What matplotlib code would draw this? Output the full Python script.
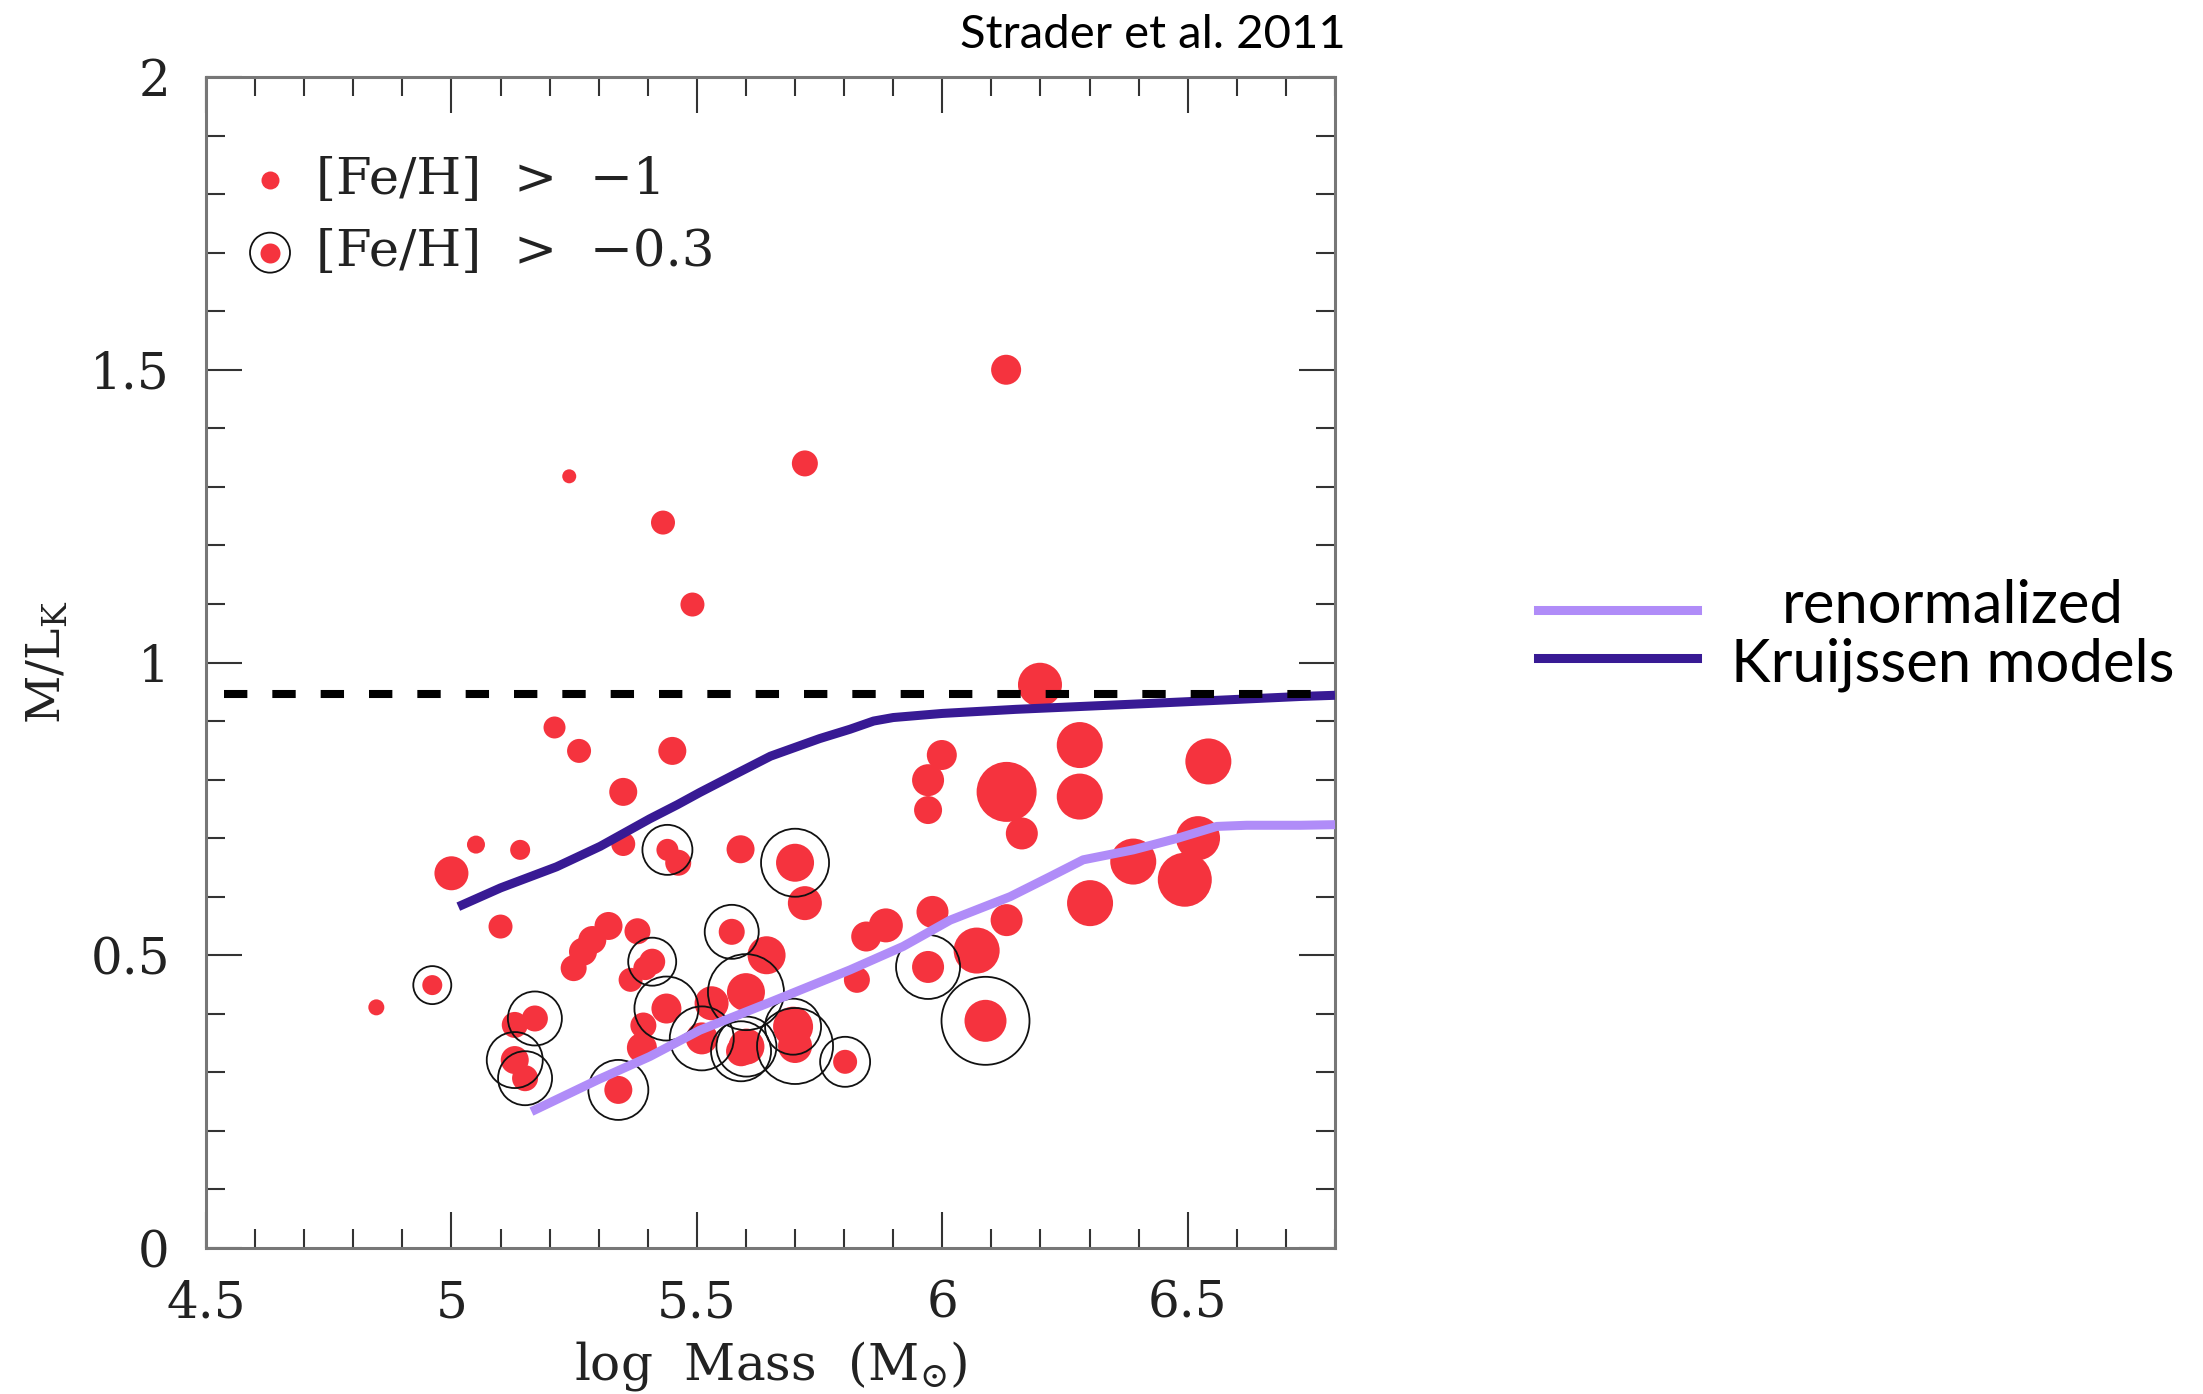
import matplotlib

matplotlib.use("Agg")
import matplotlib.pyplot as plt
from matplotlib.lines import Line2D
from matplotlib.ticker import MultipleLocator, FormatStrFormatter

# red points, no metal-rich ring: log mass, M/L_K, dot radius (px)
plain_x = [6.130, 5.720, 5.240, 5.431, 5.491, 6.199, 5.210, 5.260, 5.450, 5.350,
           5.999, 5.971, 5.971, 6.131, 6.162, 6.280, 6.280, 6.542, 6.521, 6.389,
           6.494, 6.301, 6.131, 6.070, 5.980, 5.885, 5.845, 5.826, 5.000, 5.050,
           5.140, 5.350, 5.462, 5.589, 5.720, 5.642, 5.530, 5.391, 5.388, 5.100,
           5.320, 5.287, 5.268, 5.249, 5.379, 5.365, 5.129, 4.847, 5.395]
plain_y = [1.500, 1.340, 1.318, 1.239, 1.099, 0.962, 0.889, 0.849, 0.849, 0.779,
           0.842, 0.799, 0.748, 0.779, 0.708, 0.859, 0.771, 0.831, 0.700, 0.660,
           0.629, 0.589, 0.560, 0.508, 0.574, 0.551, 0.532, 0.458, 0.640, 0.689,
           0.680, 0.690, 0.658, 0.681, 0.589, 0.500, 0.418, 0.380, 0.342, 0.549,
           0.550, 0.526, 0.506, 0.478, 0.541, 0.458, 0.381, 0.411, 0.478]
plain_r = [15, 13, 7, 12, 12, 22, 11, 12, 14, 14,
           15, 16, 14, 30, 16, 23, 23, 23, 22, 23,
           27, 23, 16, 23, 16, 17, 15, 13, 17, 9,
           10, 12, 13, 14, 17, 19, 17, 13, 15, 12,
           14, 14, 14, 13, 13, 12, 13, 8, 12]

# [Fe/H] > -0.3 points: dot radius and ring radius (px)
ring_x = [4.961, 5.440, 5.700, 5.571, 5.409, 5.600, 5.438, 5.510, 5.601, 5.590,
          5.696, 5.700, 5.802, 5.971, 6.088, 5.170, 5.129, 5.150, 5.340]
ring_y = [0.449, 0.680, 0.658, 0.540, 0.489, 0.437, 0.409, 0.358, 0.344, 0.336,
          0.378, 0.345, 0.318, 0.480, 0.388, 0.392, 0.321, 0.290, 0.270]
ring_dot_r = [10, 11, 19, 13, 13, 19, 15, 16, 18, 15,
              20, 17, 12, 16, 21, 13, 14, 13, 14]
ring_r = [19, 25, 34, 27, 24, 38, 32, 32, 30, 30,
          28, 38, 25, 32, 44, 27, 28, 27, 30]

# Kruijssen models
kru_x = [5.014, 5.10, 5.214, 5.303, 5.404, 5.460, 5.506, 5.573, 5.65, 5.75,
         5.812, 5.86, 5.90, 6.00, 6.15, 6.42, 6.73, 6.80]
kru_y = [0.583, 0.615, 0.651, 0.686, 0.733, 0.757, 0.778, 0.807, 0.840, 0.870,
         0.886, 0.900, 0.906, 0.913, 0.920, 0.930, 0.942, 0.944]
ren_x = [5.163, 5.30, 5.404, 5.506, 5.65, 5.812, 5.92, 6.016, 6.138, 6.219,
         6.287, 6.389, 6.48, 6.559, 6.62, 6.729, 6.80]
ren_y = [0.233, 0.288, 0.327, 0.372, 0.420, 0.475, 0.515, 0.560, 0.600, 0.634,
         0.663, 0.680, 0.700, 0.720, 0.722, 0.722, 0.723]

ref_level = 0.946
ref_x = [4.537, 6.80]

RED = "#f5333e"
DARK = "#381a94"
LIGHT = "#b08cf8"
DPI = 100


def px_to_s(r):
    # radius in pixels -> scatter area in pt^2
    return (2 * r * 72.0 / DPI) ** 2


plt.rcParams["font.family"] = "DejaVu Serif"
plt.rcParams["mathtext.fontset"] = "dejavuserif"

fig = plt.figure(figsize=(2203 / DPI, 1394 / DPI), dpi=DPI)
ax = fig.add_axes([206 / 2203, 1 - 1248 / 1394, 1129 / 2203, 1171 / 1394])

ax.scatter(plain_x, plain_y, s=[px_to_s(r) for r in plain_r], c=RED,
           linewidths=0, zorder=2)
ax.scatter(ring_x, ring_y, s=[px_to_s(r) for r in ring_dot_r], c=RED,
           linewidths=0, zorder=2)
ax.scatter(ring_x, ring_y, s=[px_to_s(r) for r in ring_r], facecolors="none",
           edgecolors="#111111", linewidths=1.3, zorder=3)

ax.plot(kru_x, kru_y, color=DARK, lw=6.5, solid_capstyle="butt",
        solid_joinstyle="round", zorder=4)
ax.plot(ren_x, ren_y, color=LIGHT, lw=6.5, solid_capstyle="butt",
        solid_joinstyle="round", zorder=4, clip_on=False)
ax.plot(ref_x, [ref_level, ref_level], color="black", lw=5.8,
        dashes=(2.9, 3.1), zorder=5)

# legend inside the frame
ax.scatter([0.0567], [0.912], s=px_to_s(9), c=RED, linewidths=0,
           transform=ax.transAxes, clip_on=False)
ax.scatter([0.0567], [0.850], s=px_to_s(10), c=RED, linewidths=0,
           transform=ax.transAxes, clip_on=False)
ax.scatter([0.0567], [0.850], s=px_to_s(20), facecolors="none",
           edgecolors="#111111", linewidths=1.3, transform=ax.transAxes,
           clip_on=False)
ax.text(0.097, 0.912, "[Fe/H]  >  \u22121", transform=ax.transAxes,
        fontsize=37, va="center", ha="left", color="#222222")
ax.text(0.097, 0.850, "[Fe/H]  >  \u22120.3", transform=ax.transAxes,
        fontsize=37, va="center", ha="left", color="#222222")

ax.set_xlim(4.5, 6.8)
ax.set_ylim(0, 2)
ax.xaxis.set_major_locator(MultipleLocator(0.5))
ax.xaxis.set_minor_locator(MultipleLocator(0.1))
ax.yaxis.set_major_locator(MultipleLocator(0.5))
ax.yaxis.set_minor_locator(MultipleLocator(0.1))
ax.xaxis.set_major_formatter(FormatStrFormatter("%g"))
ax.yaxis.set_major_formatter(FormatStrFormatter("%g"))
ax.tick_params(which="both", direction="in", top=True, right=True,
               color="#333333", width=1.5, labelsize=36, labelcolor="#222222")
ax.tick_params(which="major", length=26)
ax.tick_params(which="minor", length=13.5)
ax.tick_params(axis="x", which="major", pad=22)
ax.tick_params(axis="y", which="major", pad=26)
for sp in ax.spines.values():
    sp.set_color("#777777")
    sp.set_linewidth(2.2)

ax.set_xlabel(r"log  Mass  (M$_{\odot}$)", fontsize=36, color="#222222",
              labelpad=8)
ax.set_ylabel(r"M/L$_{\rm K}$", fontsize=34, color="#222222", labelpad=14)

fig.text(1346 / 2203, 1 - 35 / 1394, "Strader et al. 2011", family="Lato",
         fontsize=34, ha="right", va="center", color="black")

# model key on the right
fig.add_artist(Line2D([1538 / 2203, 1697 / 2203], [1 - 610 / 1394, 1 - 610 / 1394],
                      color=LIGHT, lw=6.5, transform=fig.transFigure))
fig.add_artist(Line2D([1538 / 2203, 1697 / 2203], [1 - 658 / 1394, 1 - 658 / 1394],
                      color=DARK, lw=6.5, transform=fig.transFigure))
fig.text(1953 / 2203, 1 - 606 / 1394, "renormalized", family="Lato",
         fontsize=43, ha="center", va="center", color="black")
fig.text(1953 / 2203, 1 - 665 / 1394, "Kruijssen models", family="Lato",
         fontsize=43, ha="center", va="center", color="black")

fig.savefig("out.png", dpi=DPI)
